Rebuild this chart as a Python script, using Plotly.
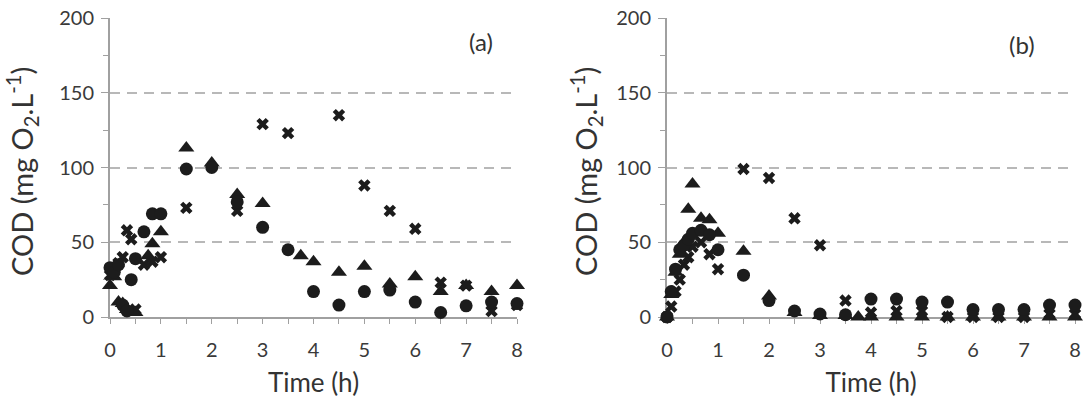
import plotly.graph_objects as go

# ---------------- data ----------------
# Panel (a)
a_circle_t = [0, 0.083, 0.167, 0.25, 0.333, 0.417, 0.5, 0.667, 0.833, 1.0, 1.5, 2.0, 2.5, 3.0, 3.5, 4.0, 4.5, 5.0, 5.5, 6.0, 6.5, 7.0, 7.5, 8.0]
a_circle_v = [33, 30, 35, 8, 4, 25, 39, 57, 69, 69, 99, 100, 77, 60, 45, 17, 8, 17, 18, 10, 3, 7.5, 10, 9]

a_tri_t = [0, 0.083, 0.167, 0.25, 0.333, 0.417, 0.5, 0.75, 0.833, 1.0, 1.5, 2.0, 2.5, 3.0, 3.75, 4.0, 4.5, 5.0, 5.5, 6.0, 6.5, 7.0, 7.5, 8.0]
a_tri_v = [21, 27, 10, 9, 5, 3, 3, 41, 49, 57, 113, 103, 82, 76, 41, 37, 30, 34, 22, 27, 17, 21, 17, 21]

a_x_t = [0, 0.083, 0.167, 0.25, 0.333, 0.417, 0.5, 0.667, 0.833, 1.0, 1.5, 2.5, 3.0, 3.5, 4.5, 5.0, 5.5, 6.0, 6.5, 7.0, 7.5, 8.0]
a_x_v = [28, 32, 36, 40, 58, 52, 5, 35, 37, 40, 73, 71, 129, 123, 135, 88, 71, 59, 23, 21, 4, 8]

# Panel (b)
b_circle_t = [0, 0.083, 0.167, 0.25, 0.333, 0.417, 0.5, 0.667, 0.833, 1.0, 1.5, 2.0, 2.5, 3.0, 3.5, 4.0, 4.5, 5.0, 5.5, 6.0, 6.5, 7.0, 7.5, 8.0]
b_circle_v = [0, 17, 32, 45, 48, 52, 56, 58, 55, 45, 28, 11, 4, 2, 1.5, 12, 12, 10, 10, 5, 5, 5, 8, 8]

b_tri_t = [0, 0.083, 0.167, 0.25, 0.333, 0.417, 0.5, 0.667, 0.833, 1.0, 1.5, 2.0, 2.5, 3.0, 3.5, 3.75, 4.0, 4.5, 5.0, 5.5, 6.0, 6.5, 7.0, 7.5, 8.0]
b_tri_v = [0, 15, 30, 42, 50, 72, 89, 66, 65, 56, 44, 14, 3, 1, 1, 0, 0, 0, 0, 0, 0, 0, 0, 0, 0]

b_x_t = [0, 0.083, 0.167, 0.25, 0.333, 0.417, 0.5, 0.667, 0.833, 1.0, 1.5, 2.0, 2.5, 3.0, 3.5, 4.0, 4.5, 5.0, 5.5, 6.0, 6.5, 7.0, 7.5, 8.0]
b_x_v = [0, 7, 17, 25, 35, 40, 47, 50, 42, 32, 99, 93, 66, 48, 11, 3, 4, 4, 0, 0, 0, 0, 2, 2]

y_ticks = [0, 50, 100, 150, 200]
x_ticks = [0, 1, 2, 3, 4, 5, 6, 7, 8]
panel_labels = ["(a)", "(b)"]
y_title = "COD (mg O<sub>2</sub>.L<sup>-1</sup>)"
x_title = "Time (h)"

# ---------------- figure ----------------
MK = "#1c1c1c"
FONT = "Lato"
fig = go.Figure()

def add_series(t, v, symbol, size, xa, ya):
    fig.add_trace(go.Scatter(
        x=t, y=v, mode="markers", xaxis=xa, yaxis=ya, cliponaxis=False,
        marker=dict(symbol=symbol, size=size, color=MK, line=dict(width=0)),
        showlegend=False))

add_series(a_x_t, a_x_v, "x", 11, "x", "y")
add_series(a_tri_t, a_tri_v, "triangle-up", 14, "x", "y")
add_series(a_circle_t, a_circle_v, "circle", 13, "x", "y")
add_series(b_x_t, b_x_v, "x", 11, "x2", "y2")
add_series(b_tri_t, b_tri_v, "triangle-up", 14, "x2", "y2")
add_series(b_circle_t, b_circle_v, "circle", 13, "x2", "y2")

AX = "#a0a0a0"
def xaxis(domain, anchor):
    return dict(domain=domain, anchor=anchor, range=[0, 8], tickvals=x_ticks,
                ticktext=[str(v) for v in x_ticks],
                showline=True, linecolor=AX, linewidth=2, ticks="outside",
                tickcolor=AX, ticklen=5, tickwidth=1, showgrid=False, zeroline=False,
                minor=dict(dtick=0.5, tick0=0, ticks="outside", ticklen=5, tickcolor=AX, showgrid=False),
                tickfont=dict(family=FONT, size=20, color="#3a3a3a"),
                title=dict(text=x_title, font=dict(family=FONT, size=26, color="#333333"), standoff=14),
                layer="below traces", ticklabelstandoff=9, automargin=False)

def yaxis(anchor):
    return dict(domain=[0, 1], anchor=anchor, range=[0, 200], tickvals=y_ticks,
                ticktext=[str(v) for v in y_ticks],
                showline=True, linecolor=AX, linewidth=2, ticks="outside",
                tickcolor=AX, ticklen=7, tickwidth=1, zeroline=False,
                showgrid=True, gridcolor="#b8b8b8", gridwidth=2, griddash="10px,7px",
                minor=dict(dtick=25, tick0=0, ticks="outside", ticklen=5, tickcolor=AX, showgrid=False),
                tickfont=dict(family=FONT, size=20, color="#3a3a3a"),
                layer="below traces", ticklabelstandoff=3, automargin=False)

W, H = 1089, 408
L, R, T, B = 110, 14, 18, 91
pw = W - L - R
ph = H - T - B
da = [0, (517 - L) / pw]
db = [(667 - L) / pw, 1]

def px_x(p):
    return (p - L) / pw

def px_y(p):
    return (H - B - p) / ph

title_font = dict(family=FONT, size=29, color="#333333")
label_font = dict(family=FONT, size=24, color="#333333")

fig.update_layout(
    width=W, height=H, template="none",
    margin=dict(l=L, r=R, t=T, b=B, pad=0),
    paper_bgcolor="white", plot_bgcolor="white",
    xaxis=xaxis(da, "y"), yaxis=yaxis("x"),
    xaxis2=xaxis(db, "y2"), yaxis2=yaxis("x2"),
    annotations=[
        dict(text=y_title, xref="paper", yref="paper", x=px_x(22), y=px_y(172),
             textangle=-90, showarrow=False, xanchor="center", yanchor="middle", font=title_font),
        dict(text=y_title, xref="paper", yref="paper", x=px_x(586), y=px_y(172),
             textangle=-90, showarrow=False, xanchor="center", yanchor="middle", font=title_font),
        dict(text=panel_labels[0], xref="x", yref="y", x=7.3, y=184, showarrow=False, font=label_font),
        dict(text=panel_labels[1], xref="x2", yref="y2", x=6.96, y=182, showarrow=False, font=label_font),
    ],
)

fig.write_html("out.html")
